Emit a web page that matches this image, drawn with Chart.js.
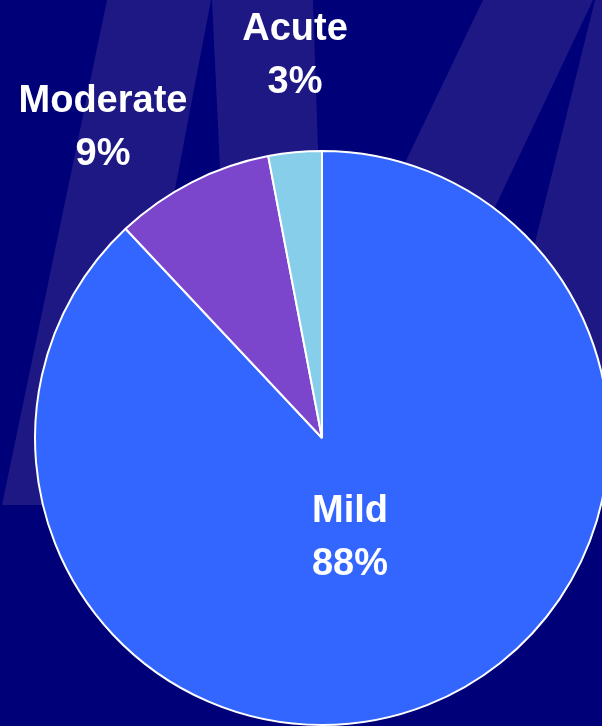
<!DOCTYPE html>
<html>
<head>
<meta charset="utf-8">
<script src="https://cdn.jsdelivr.net/npm/chart.js@4/dist/chart.umd.min.js"></script>
<style>
    html, body { margin: 0; padding: 0; background: #000078; overflow: hidden; }
    #wrap { width: 602px; height: 726px; overflow: hidden; position: relative; }
    #wrap canvas { position: absolute; left: 0; top: 0; }
</style>
</head>
<body>
<div id="wrap"><canvas id="severityChart" width="620" height="726"></canvas></div>
<script>
    // Chart data
    const categories = ['Mild', 'Moderate', 'Acute'];
    const shares = [88, 9, 3];
    const sliceColors = ['#3366FF', '#7B46CC', '#87CEEB'];

    // label anchors, relative to pie centre: [centre x, first baseline]
    const labelOffsets = [[28, 84], [-219, -326], [-27, -398]];

    const BG = '#000078';
    const STRIPE = '#1D1884';

    // decorative "M" stripes behind the pie
    const backdropPlugin = {
        id: 'backdrop',
        beforeDraw(chart) {
            const ctx = chart.ctx;
            ctx.save();
            ctx.fillStyle = BG;
            ctx.fillRect(0, 0, chart.width, chart.height);
            ctx.fillStyle = STRIPE;
            const shapes = [
                [[107, 0], [211, 0], [115, 505], [2, 505]],
                [[212, 0], [313, 0], [330, 505], [236, 505]],
                [[483, 0], [593, 0], [354, 505], [241, 505]],
                [[595, 0], [640, 0], [640, 505], [470, 505]]
            ];
            shapes.forEach(pts => {
                ctx.beginPath();
                pts.forEach((p, i) => i ? ctx.lineTo(p[0], p[1]) : ctx.moveTo(p[0], p[1]));
                ctx.closePath();
                ctx.fill();
            });
            ctx.restore();
        }
    };

    const sliceLabelPlugin = {
        id: 'sliceLabels',
        afterDatasetsDraw(chart) {
            const ctx = chart.ctx;
            const arcs = chart.getDatasetMeta(0).data;
            const total = shares.reduce((a, b) => a + b, 0);
            ctx.save();
            ctx.fillStyle = '#FFFFFF';
            ctx.font = 'bold 38px "Liberation Sans", Arial, sans-serif';
            ctx.textAlign = 'center';
            ctx.textBaseline = 'alphabetic';
            arcs.forEach((arc, i) => {
                const cx = arc.x + labelOffsets[i][0];
                const cy = arc.y + labelOffsets[i][1];
                const pct = Math.round(shares[i] / total * 100) + '%';
                ctx.fillText(categories[i], cx, cy);
                ctx.fillText(pct, cx, cy + 52.5);
            });
            ctx.restore();
        }
    };

    new Chart(document.getElementById('severityChart').getContext('2d'), {
        type: 'pie',
        data: {
            labels: categories,
            datasets: [{
                data: shares,
                backgroundColor: sliceColors,
                borderColor: '#FFFFFF',
                borderWidth: 2
            }]
        },
        options: {
            responsive: false,
            animation: false,
            layout: { padding: { left: 34, right: 10, top: 150, bottom: 0 } },
            plugins: {
                legend: { display: false },
                tooltip: { enabled: false }
            }
        },
        plugins: [backdropPlugin, sliceLabelPlugin]
    });
</script>
</body>
</html>
